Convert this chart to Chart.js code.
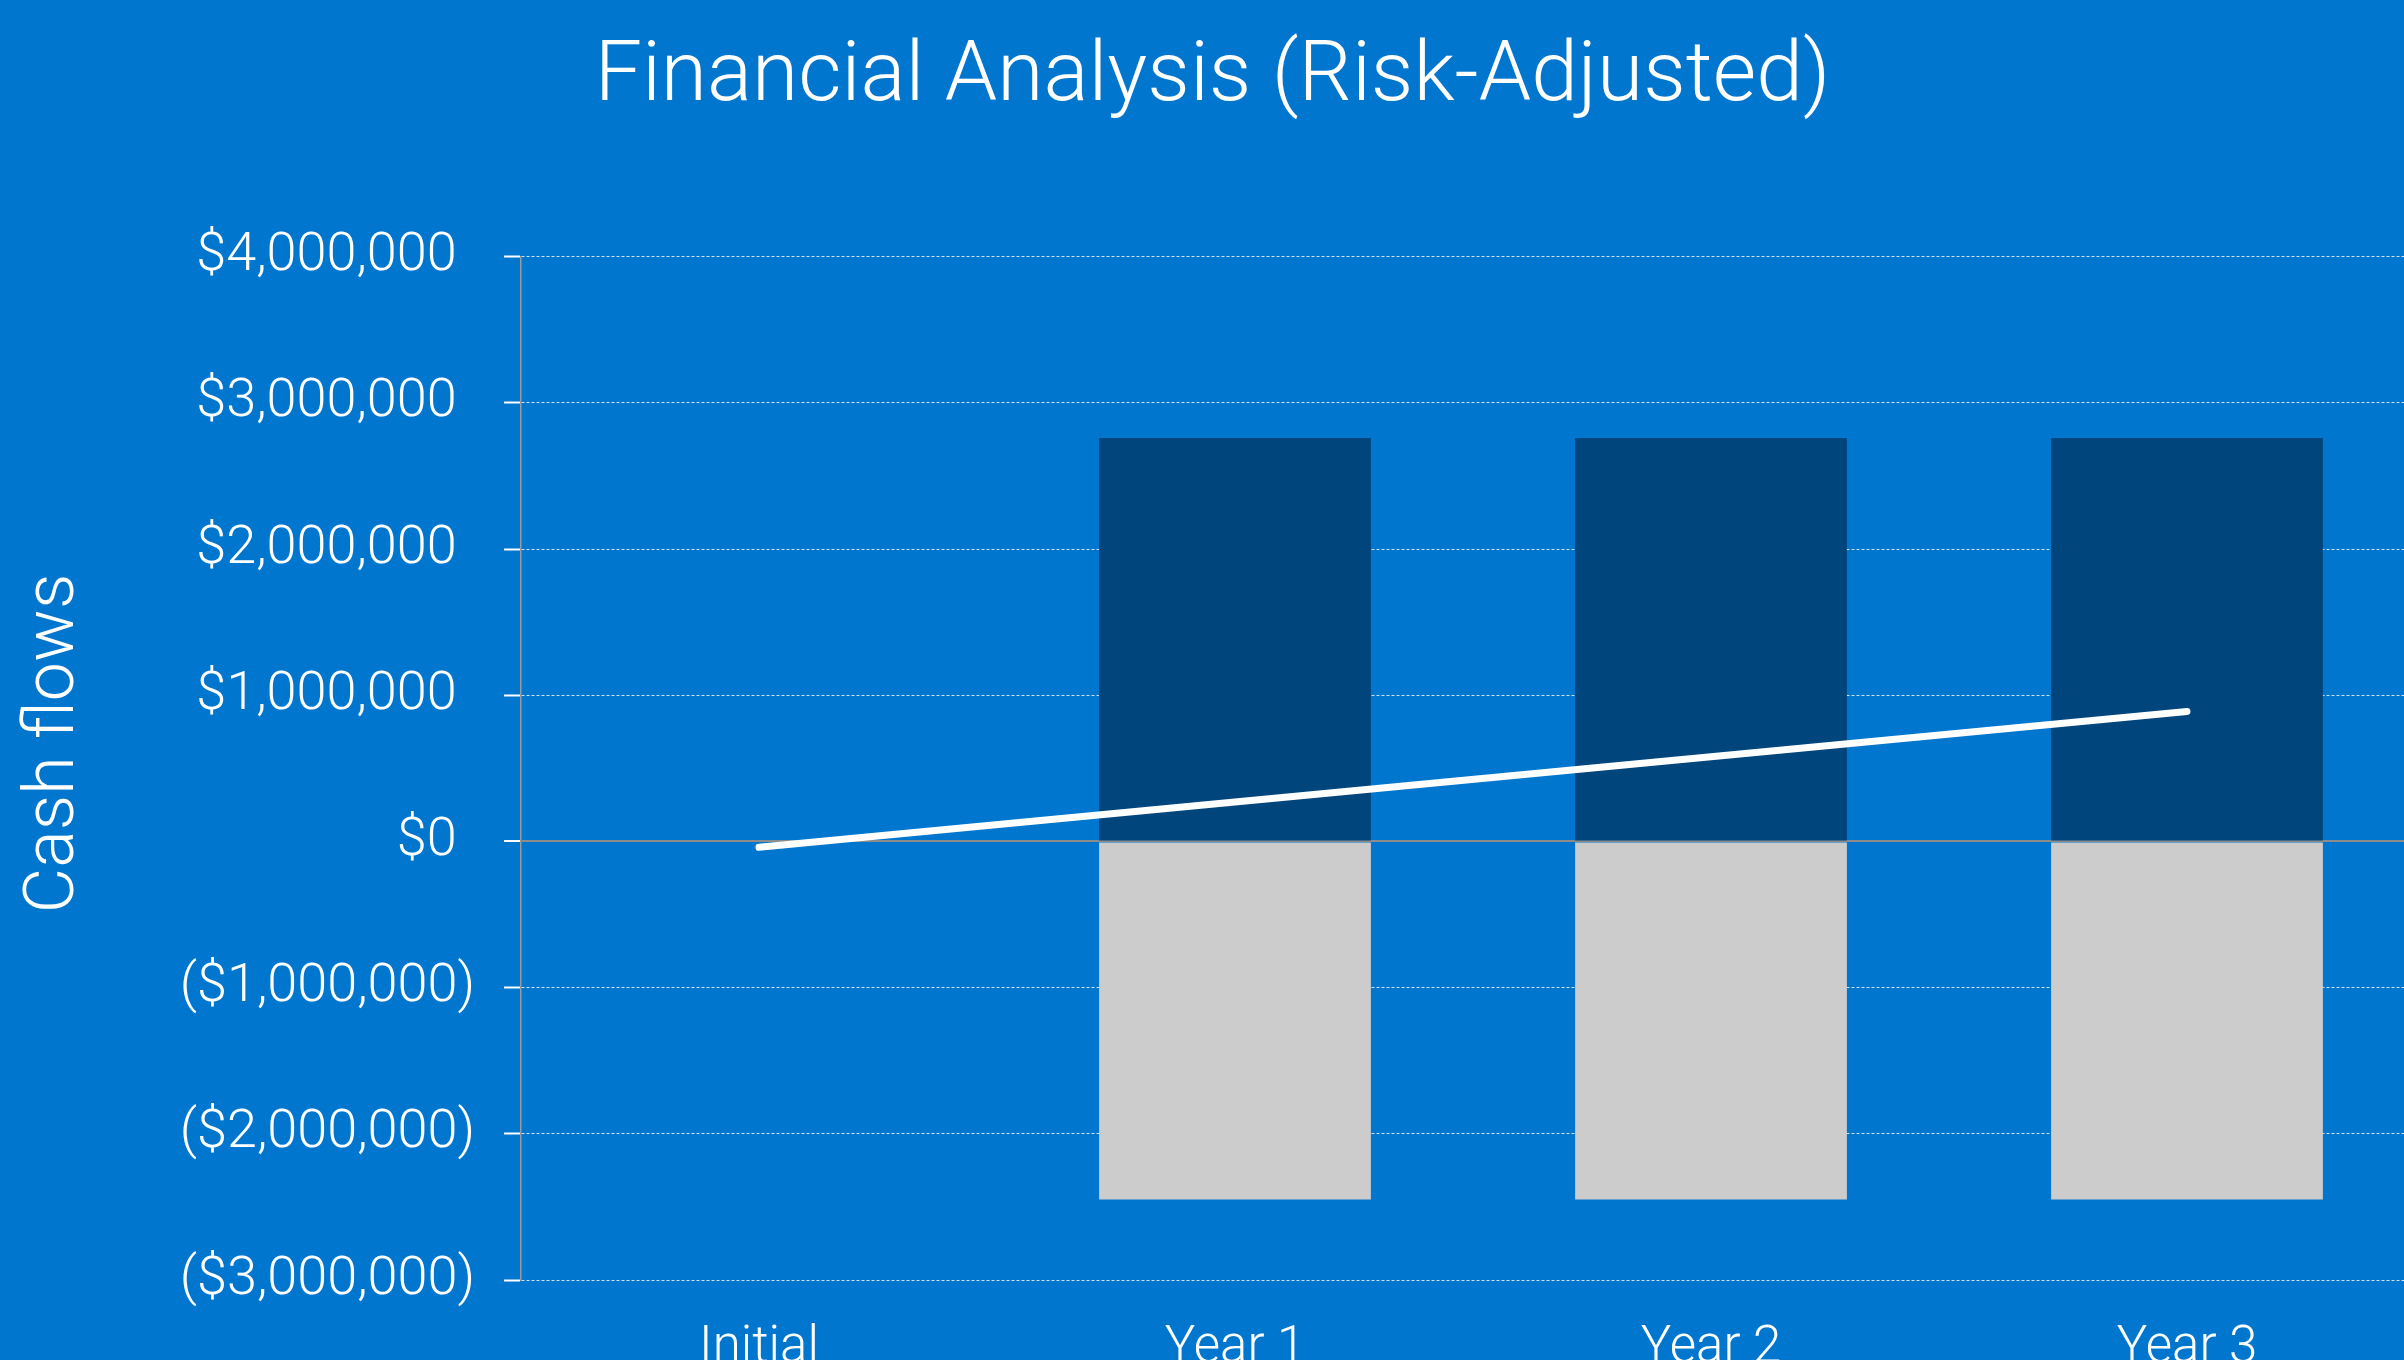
<!DOCTYPE html>
<html>
<head>
<meta charset="utf-8">
<title>Financial Analysis (Risk-Adjusted)</title>
<script src="https://cdn.jsdelivr.net/npm/chart.js@4.4.0/dist/chart.umd.min.js"></script>
<style>
  html, body { margin: 0; padding: 0; background: #0076ce; overflow: hidden; }
  #wrap { width: 2430px; height: 1400px; }
</style>
</head>
<body>
<div id="wrap"><canvas id="cashChart"></canvas></div>
<script>
const categories = ['Initial', 'Year 1', 'Year 2', 'Year 3'];
const inflows = [0, 2760000, 2760000, 2760000];
const outflows = [0, -2450000, -2450000, -2450000];
const cumulativeNet = [-40000, 270000, 580000, 890000];
const yTickValues = [-3000000, -2000000, -1000000, 0, 1000000, 2000000, 3000000, 4000000];
const yTickLabels = ['($3,000,000)', '($2,000,000)', '($1,000,000)', '$0\u2004',
  '$1,000,000\u2004', '$2,000,000\u2004', '$3,000,000\u2004', '$4,000,000\u2004'];

Chart.defaults.font.family = 'Roboto, "Open Sans", sans-serif';
Chart.defaults.font.weight = 300;
Chart.defaults.color = '#ffffff';

const ctx = document.getElementById('cashChart').getContext('2d');

const cashChart = new Chart(ctx, {
  type: 'bar',
  data: {
    labels: categories,
    datasets: [{
      type: 'line',
      data: cumulativeNet,
      borderColor: '#ffffff',
      borderWidth: 7,
      borderCapStyle: 'round',
      pointRadius: 0,
      fill: false,
      stack: 'net',
      order: 0
    }, {
      data: inflows,
      backgroundColor: '#00457c',
      stack: 'flows',
      order: 1
    }, {
      data: outflows,
      backgroundColor: '#cccccc',
      stack: 'flows',
      order: 1
    }]
  },
  options: {
    responsive: true,
    maintainAspectRatio: false,
    animation: false,
    barPercentage: 0.571,
    categoryPercentage: 1,
    layout: { padding: { left: 0, right: 5, top: 0, bottom: 0 } },
    scales: {
      x: {
        stacked: true,
        grid: { display: false, drawTicks: false },
        border: { display: false },
        ticks: { padding: 39, font: { size: 51, weight: 300 }, color: '#ffffff' },
        afterFit: function(scale) { scale.height = 120; }
      },
      y: {
        stacked: true,
        min: -3000000,
        max: 4000000,
        afterBuildTicks: function(scale) {
          scale.ticks = yTickValues.map(v => ({ value: v }));
        },
        afterFit: function(scale) { scale.width = 521; },
        ticks: {
          padding: 29,
          font: { size: 54, weight: 300 },
          color: '#ffffff',
          callback: function(value, index) { return yTickLabels[index]; }
        },
        grid: {
          color: function(c) { return c.tick && c.tick.value === 0 ? '#8c8c8c' : 'rgba(255,255,255,0.8)'; },
          lineWidth: function(c) { return c.tick && c.tick.value === 0 ? 2 : 1; },
          tickColor: '#ffffff',
          tickLength: 17,
          tickWidth: 2
        },
        border: {
          display: true,
          color: '#9a9a9a',
          width: 1.5,
          dash: function(c) { return c.tick && c.tick.value === 0 ? [] : [3, 2]; }
        },
        title: {
          display: true,
          text: '\u2002\u2009Cash flows',
          color: '#ffffff',
          font: { size: 70, weight: 300 },
          padding: { top: 13, bottom: 0 }
        }
      }
    },
    plugins: {
      legend: { display: false },
      tooltip: { enabled: false },
      title: {
        display: true,
        text: 'Financial Analysis (Risk-Adjusted)',
        color: '#ffffff',
        font: { size: 84, weight: 300 },
        padding: { top: 29, bottom: 127 }
      }
    }
  }
});
</script>
</body>
</html>
